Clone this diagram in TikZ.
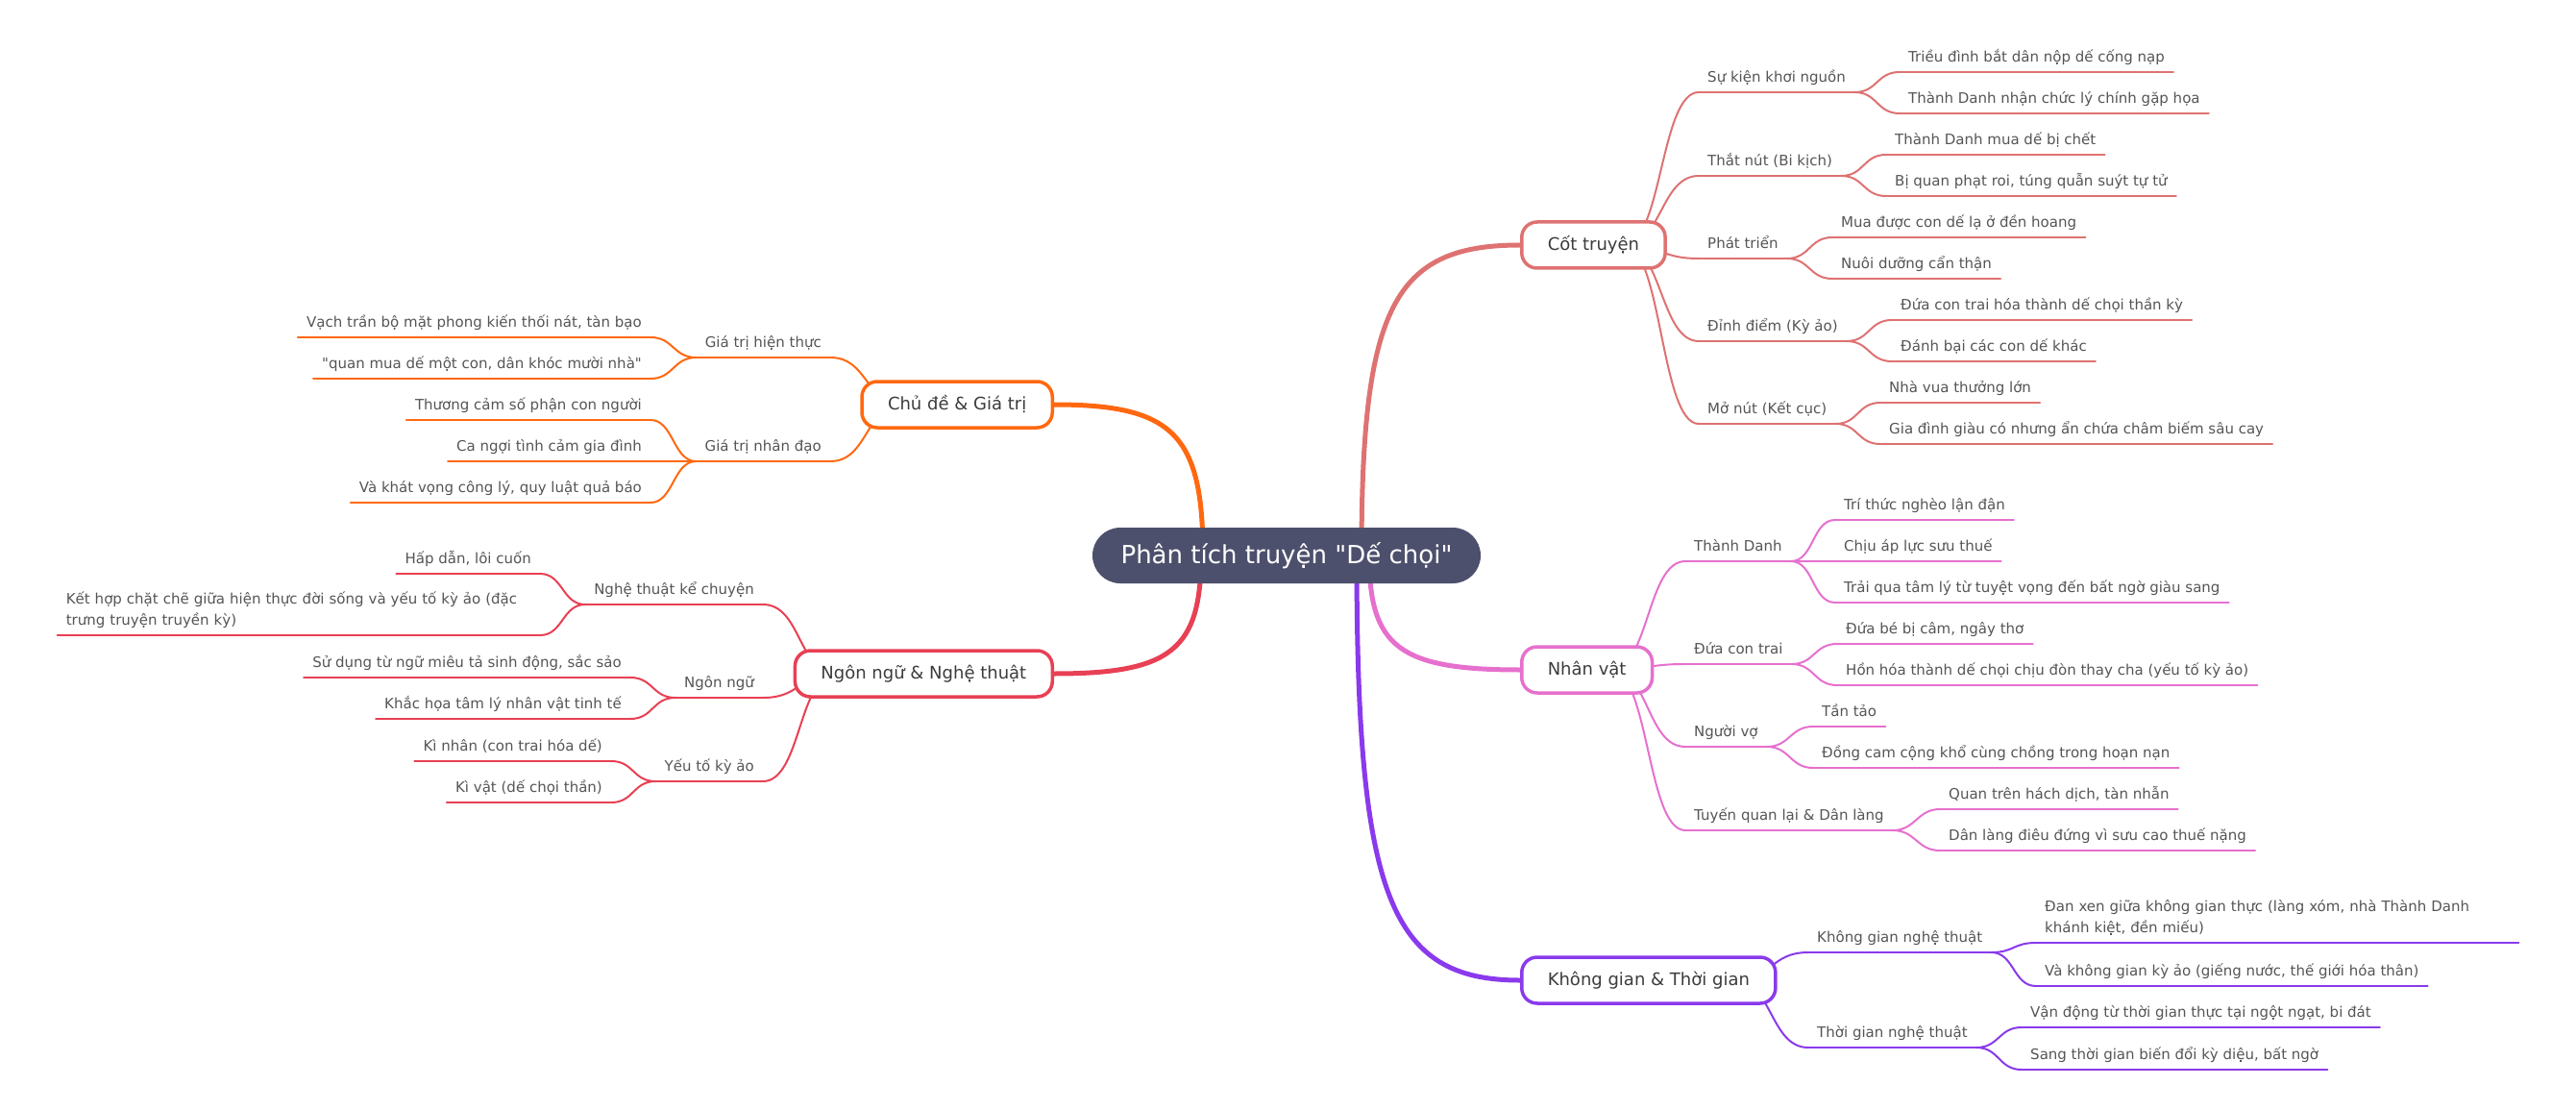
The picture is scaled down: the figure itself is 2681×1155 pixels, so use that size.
\documentclass[tikz,border=0pt]{standalone}
\usepackage{fontspec}
\setmainfont{DejaVu Sans}[Ligatures=TeXOff]
\usetikzlibrary{backgrounds}
\definecolor{rootfill}{RGB}{76,80,108}
\definecolor{plotred}{RGB}{222,114,114}
\definecolor{charpink}{RGB}{230,112,206}
\definecolor{spacepurple}{RGB}{138,58,236}
\definecolor{themeorange}{RGB}{255,104,16}
\definecolor{artred}{RGB}{232,64,84}
\definecolor{textgray}{RGB}{85,85,85}
\definecolor{boxgray}{RGB}{60,60,60}

\begin{document}
\begin{tikzpicture}[x=1pt, y=-1pt,
    rootnode/.style={fill=rootfill, text=white, rounded corners=29pt, minimum width=404pt, minimum height=58pt, font=\fontsize{26}{30}\selectfont},
    branch/.style={draw=#1, line width=3.5pt, fill=white, text=boxgray, rounded corners=16pt, minimum height=48pt, inner xsep=27pt, font=\fontsize{18}{22}\selectfont},
    topic/.style={text=textgray, inner xsep=9pt, inner ysep=3pt, text height=12pt, text depth=7pt, font=\fontsize{15}{22}\selectfont},
    twoline/.style={topic, text width=484pt, align=left, text depth=29pt},
    mainlink/.style={draw=#1, line width=5pt, line cap=round},
    sublink/.style={draw=#1, line width=2pt, line cap=round}]
    \useasboundingbox (0,0) rectangle (2681,1155);

    % Root
    \node[rootnode] (root) at (1339,578) {Phân tích truyện "Dế chọi"};

    % Main branches
    \node[branch=plotred, anchor=west] (plot) at (1582,255) {Cốt truyện};
    \node[branch=charpink, anchor=west] (chars) at (1582,697) {Nhân vật};
    \node[branch=spacepurple, anchor=west] (space) at (1582,1020) {Không gian \& Thời gian};
    \node[branch=themeorange, anchor=east] (theme) at (1097,421) {Chủ đề \& Giá trị};
    \node[branch=artred, anchor=east] (art) at (1097,701) {Ngôn ngữ \& Nghệ thuật};

    % Cot truyen
    \node[topic, anchor=south west] (plot1) at (1768,96) {Sự kiện khơi nguồn};
    \node[topic, anchor=south west] (plot1a) at (1977,75) {Triều đình bắt dân nộp dế cống nạp};
    \node[topic, anchor=south west] (plot1b) at (1977,118) {Thành Danh nhận chức lý chính gặp họa};
    \node[topic, anchor=south west] (plot2) at (1768,183) {Thắt nút (Bi kịch)};
    \node[topic, anchor=south west] (plot2a) at (1963,161) {Thành Danh mua dế bị chết};
    \node[topic, anchor=south west] (plot2b) at (1963,204) {Bị quan phạt roi, túng quẫn suýt tự tử};
    \node[topic, anchor=south west] (plot3) at (1768,269) {Phát triển};
    \node[topic, anchor=south west] (plot3a) at (1907,247) {Mua được con dế lạ ở đền hoang};
    \node[topic, anchor=south west] (plot3b) at (1907,290) {Nuôi dưỡng cẩn thận};
    \node[topic, anchor=south west] (plot4) at (1768,355) {Đỉnh điểm (Kỳ ảo)};
    \node[topic, anchor=south west] (plot4a) at (1969,333) {Đứa con trai hóa thành dế chọi thần kỳ};
    \node[topic, anchor=south west] (plot4b) at (1969,376) {Đánh bại các con dế khác};
    \node[topic, anchor=south west] (plot5) at (1768,441) {Mở nút (Kết cục)};
    \node[topic, anchor=south west] (plot5a) at (1957,419) {Nhà vua thưởng lớn};
    \node[topic, anchor=south west] (plot5b) at (1957,462) {Gia đình giàu có nhưng ẩn chứa châm biếm sâu cay};

    % Nhan vat
    \node[topic, anchor=south west] (chars1) at (1754,584) {Thành Danh};
    \node[topic, anchor=south west] (chars1a) at (1910,541) {Trí thức nghèo lận đận};
    \node[topic, anchor=south west] (chars1b) at (1910,584) {Chịu áp lực sưu thuế};
    \node[topic, anchor=south west] (chars1c) at (1910,627) {Trải qua tâm lý từ tuyệt vọng đến bất ngờ giàu sang};
    \node[topic, anchor=south west] (chars2) at (1754,691) {Đứa con trai};
    \node[topic, anchor=south west] (chars2a) at (1912,670) {Đứa bé bị câm, ngây thơ};
    \node[topic, anchor=south west] (chars2b) at (1912,713) {Hồn hóa thành dế chọi chịu đòn thay cha (yếu tố kỳ ảo)};
    \node[topic, anchor=south west] (chars3) at (1754,777) {Người vợ};
    \node[topic, anchor=south west] (chars3a) at (1887,756) {Tần tảo};
    \node[topic, anchor=south west] (chars3b) at (1887,799) {Đồng cam cộng khổ cùng chồng trong hoạn nạn};
    \node[topic, anchor=south west] (chars4) at (1754,864) {Tuyến quan lại \& Dân làng};
    \node[topic, anchor=south west] (chars4a) at (2019,842) {Quan trên hách dịch, tàn nhẫn};
    \node[topic, anchor=south west] (chars4b) at (2019,885) {Dân làng điêu đứng vì sưu cao thuế nặng};

    % Khong gian & Thoi gian
    \node[topic, anchor=south west] (space1) at (1882,991) {Không gian nghệ thuật};
    \node[twoline, anchor=south west] (space1a) at (2119,981) {Đan xen giữa không gian thực (làng xóm, nhà Thành Danh\\khánh kiệt, đền miếu)};
    \node[topic, anchor=south west] (space1b) at (2119,1026) {Và không gian kỳ ảo (giếng nước, thế giới hóa thân)};
    \node[topic, anchor=south west] (space2) at (1882,1090) {Thời gian nghệ thuật};
    \node[topic, anchor=south west] (space2a) at (2104,1069) {Vận động từ thời gian thực tại ngột ngạt, bi đát};
    \node[topic, anchor=south west] (space2b) at (2104,1113) {Sang thời gian biến đổi kỳ diệu, bất ngờ};

    % Chu de & Gia tri
    \node[topic, anchor=south east] (theme1) at (864,372) {Giá trị hiện thực};
    \node[topic, anchor=south east] (theme1a) at (677,351) {Vạch trần bộ mặt phong kiến thối nát, tàn bạo};
    \node[topic, anchor=south east] (theme1b) at (677,394) {"quan mua dế một con, dân khóc mười nhà"};
    \node[topic, anchor=south east] (theme2) at (864,480) {Giá trị nhân đạo};
    \node[topic, anchor=south east] (theme2a) at (677,437) {Thương cảm số phận con người};
    \node[topic, anchor=south east] (theme2b) at (677,480) {Ca ngợi tình cảm gia đình};
    \node[topic, anchor=south east] (theme2c) at (677,523) {Và khát vọng công lý, quy luật quả báo};

    % Ngon ngu & Nghe thuat
    \node[topic, anchor=south east] (art1) at (794,629) {Nghệ thuật kể chuyện};
    \node[topic, anchor=south east] (art1a) at (562,597) {Hấp dẫn, lôi cuốn};
    \node[twoline, anchor=south east] (art1b) at (562,661) {Kết hợp chặt chẽ giữa hiện thực đời sống và yếu tố kỳ ảo (đặc\\trưng truyện truyền kỳ)};
    \node[topic, anchor=south east] (art2) at (794,726) {Ngôn ngữ};
    \node[topic, anchor=south east] (art2a) at (656,705) {Sử dụng từ ngữ miêu tả sinh động, sắc sảo};
    \node[topic, anchor=south east] (art2b) at (656,748) {Khắc họa tâm lý nhân vật tinh tế};
    \node[topic, anchor=south east] (art3) at (794,813) {Yếu tố kỳ ảo};
    \node[topic, anchor=south east] (art3a) at (636,792) {Kì nhân (con trai hóa dế)};
    \node[topic, anchor=south east] (art3b) at (636,835) {Kì vật (dế chọi thần)};

    \begin{pgfonlayer}{background}
    % Root links
    \draw[mainlink=plotred] ([xshift=78pt]root.center) .. controls +(0,-258) and +(-132,0) .. (plot.west);
    \draw[mainlink=charpink] ([xshift=86pt]root.center) .. controls +(0,95) and +(-126,0) .. (chars.west);
    \draw[mainlink=spacepurple] ([xshift=73pt]root.center) .. controls +(0,354) and +(-136,0) .. (space.west);
    \draw[mainlink=themeorange] ([xshift=-87pt]root.center) .. controls +(0,-126) and +(124,0) .. (theme.east);
    \draw[mainlink=artred] ([xshift=-89pt]root.center) .. controls +(0,98) and +(122,0) .. (art.east);

    % Branch links
    \foreach \n in {plot1,plot2,plot3,plot4,plot5}
        \draw[sublink=plotred] ([xshift=-45pt]plot.east) .. controls +(40,0) and +(-40,0) .. (\n.south west);
    \foreach \n in {chars1,chars2,chars3,chars4}
        \draw[sublink=charpink] ([xshift=-45pt]chars.east) .. controls +(40,0) and +(-40,0) .. (\n.south west);
    \foreach \n in {space1,space2}
        \draw[sublink=spacepurple] ([xshift=-45pt]space.east) .. controls +(40,0) and +(-40,0) .. (\n.south west);
    \foreach \n in {theme1,theme2}
        \draw[sublink=themeorange] ([xshift=45pt]theme.west) .. controls +(-40,0) and +(40,0) .. (\n.south east);
    \foreach \n in {art1,art2,art3}
        \draw[sublink=artred] ([xshift=45pt]art.west) .. controls +(-40,0) and +(40,0) .. (\n.south east);

    % Leaf links
    \foreach \a/\b in {plot1/plot1a,plot1/plot1b,plot2/plot2a,plot2/plot2b,plot3/plot3a,plot3/plot3b,plot4/plot4a,plot4/plot4b,plot5/plot5a,plot5/plot5b}
        \draw[sublink=plotred] (\a.south east) .. controls +(24,0) and +(-24,0) .. (\b.south west);
    \foreach \a/\b in {chars1/chars1a,chars1/chars1b,chars1/chars1c,chars2/chars2a,chars2/chars2b,chars3/chars3a,chars3/chars3b,chars4/chars4a,chars4/chars4b}
        \draw[sublink=charpink] (\a.south east) .. controls +(24,0) and +(-24,0) .. (\b.south west);
    \foreach \a/\b in {space1/space1a,space1/space1b,space2/space2a,space2/space2b}
        \draw[sublink=spacepurple] (\a.south east) .. controls +(24,0) and +(-24,0) .. (\b.south west);
    \foreach \a/\b in {theme1/theme1a,theme1/theme1b,theme2/theme2a,theme2/theme2b,theme2/theme2c}
        \draw[sublink=themeorange] (\a.south west) .. controls +(-24,0) and +(24,0) .. (\b.south east);
    \foreach \a/\b in {art1/art1a,art1/art1b,art2/art2a,art2/art2b,art3/art3a,art3/art3b}
        \draw[sublink=artred] (\a.south west) .. controls +(-24,0) and +(24,0) .. (\b.south east);
    \end{pgfonlayer}

    % Underlines
    \foreach \n in {plot1,plot1a,plot1b,plot2,plot2a,plot2b,plot3,plot3a,plot3b,plot4,plot4a,plot4b,plot5,plot5a,plot5b}
        \draw[sublink=plotred] (\n.south west) -- (\n.south east);
    \foreach \n in {chars1,chars1a,chars1b,chars1c,chars2,chars2a,chars2b,chars3,chars3a,chars3b,chars4,chars4a,chars4b}
        \draw[sublink=charpink] (\n.south west) -- (\n.south east);
    \foreach \n in {space1,space1a,space1b,space2,space2a,space2b}
        \draw[sublink=spacepurple] (\n.south west) -- (\n.south east);
    \foreach \n in {theme1,theme1a,theme1b,theme2,theme2a,theme2b,theme2c}
        \draw[sublink=themeorange] (\n.south west) -- (\n.south east);
    \foreach \n in {art1,art1a,art1b,art2,art2a,art2b,art3,art3a,art3b}
        \draw[sublink=artred] (\n.south west) -- (\n.south east);
\end{tikzpicture}
\end{document}
